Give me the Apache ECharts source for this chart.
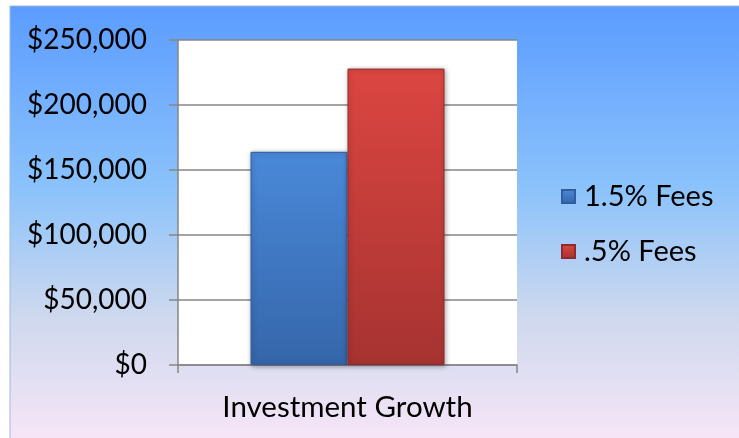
<!DOCTYPE html>
<html>
<head>
<meta charset="utf-8">
<script src="https://cdn.jsdelivr.net/npm/echarts@6/dist/echarts.min.js"></script>
<style>
  html, body { margin: 0; padding: 0; background: #fff; }
  #chart { width: 739px; height: 438px; }
</style>
</head>
<body>
<div id="chart"></div>
<script>
const categories = ["Investment Growth"];
const seriesNames = ["1.5% Fees", ".5% Fees"];
const fees15 = [164000];
const fees05 = [228000];
const yTicks = [0, 50000, 100000, 150000, 200000, 250000];

const fontFamily = "Lato, 'Open Sans', sans-serif";
const gray = "#868686";

const chart = echarts.init(document.getElementById("chart"));

const barGrad = (top, bottom) =>
  new echarts.graphic.LinearGradient(0, 0, 0, 1, [
    { offset: 0, color: top },
    { offset: 1, color: bottom }
  ]);

chart.setOption({
  animation: false,
  graphic: [
    {
      type: "rect",
      z: -10,
      shape: { x: 10, y: 6, width: 740, height: 440 },
      style: {
        fill: new echarts.graphic.LinearGradient(0, 0, 0, 1, [
          { offset: 0, color: "#5b9cff" },
          { offset: 0.42, color: "#8cc3fb" },
          { offset: 0.7, color: "#cdd8ee" },
          { offset: 1, color: "#f9e6f7" }
        ]),
        stroke: "#9bb8dc",
        lineWidth: 1
      }
    }
  ],
  grid: {
    left: 178,
    right: 222,
    top: 40,
    bottom: 73,
    show: true,
    backgroundColor: "#fff",
    borderWidth: 0
  },
  legend: {
    orient: "vertical",
    left: 556,
    top: 177,
    itemWidth: 13,
    itemHeight: 13,
    itemGap: 26,
    icon: "rect",
    textStyle: { fontFamily, fontSize: 29, color: "#000", padding: [0, 0, 0, 4] },
    data: seriesNames
  },
  xAxis: {
    type: "category",
    data: categories,
    axisLine: { show: true, lineStyle: { color: gray, width: 1.5 } },
    axisTick: { show: true, length: 8, lineStyle: { color: gray, width: 1.5 } },
    axisLabel: { fontFamily, fontSize: 29.5, color: "#000", margin: 27 }
  },
  yAxis: {
    type: "value",
    min: yTicks[0],
    max: yTicks[yTicks.length - 1],
    interval: 50000,
    axisLine: { show: true, lineStyle: { color: gray, width: 1.5 } },
    axisTick: { show: true, length: 9, lineStyle: { color: gray, width: 1.5 } },
    splitLine: { show: true, lineStyle: { color: gray, width: 1.5 } },
    axisLabel: {
      fontFamily,
      fontSize: 28,
      color: "#000",
      margin: 31,
      formatter: (v) => "$" + v.toLocaleString("en-US")
    }
  },
  series: [
    {
      name: seriesNames[0],
      type: "bar",
      data: fees15,
      barWidth: 97,
      barGap: "0%",
      itemStyle: {
        color: barGrad("#4a89d9", "#3566aa"),
        borderColor: "#2f5d9e",
        borderWidth: 1,
        shadowColor: "rgba(0,0,0,0.35)",
        shadowBlur: 5,
        shadowOffsetX: 1,
        shadowOffsetY: 1
      }
    },
    {
      name: seriesNames[1],
      type: "bar",
      data: fees05,
      barWidth: 97,
      barGap: "0%",
      itemStyle: {
        color: barGrad("#dc4641", "#a63331"),
        borderColor: "#8f2b29",
        borderWidth: 1,
        shadowColor: "rgba(0,0,0,0.35)",
        shadowBlur: 5,
        shadowOffsetX: 1,
        shadowOffsetY: 1
      }
    }
  ]
});
</script>
</body>
</html>
